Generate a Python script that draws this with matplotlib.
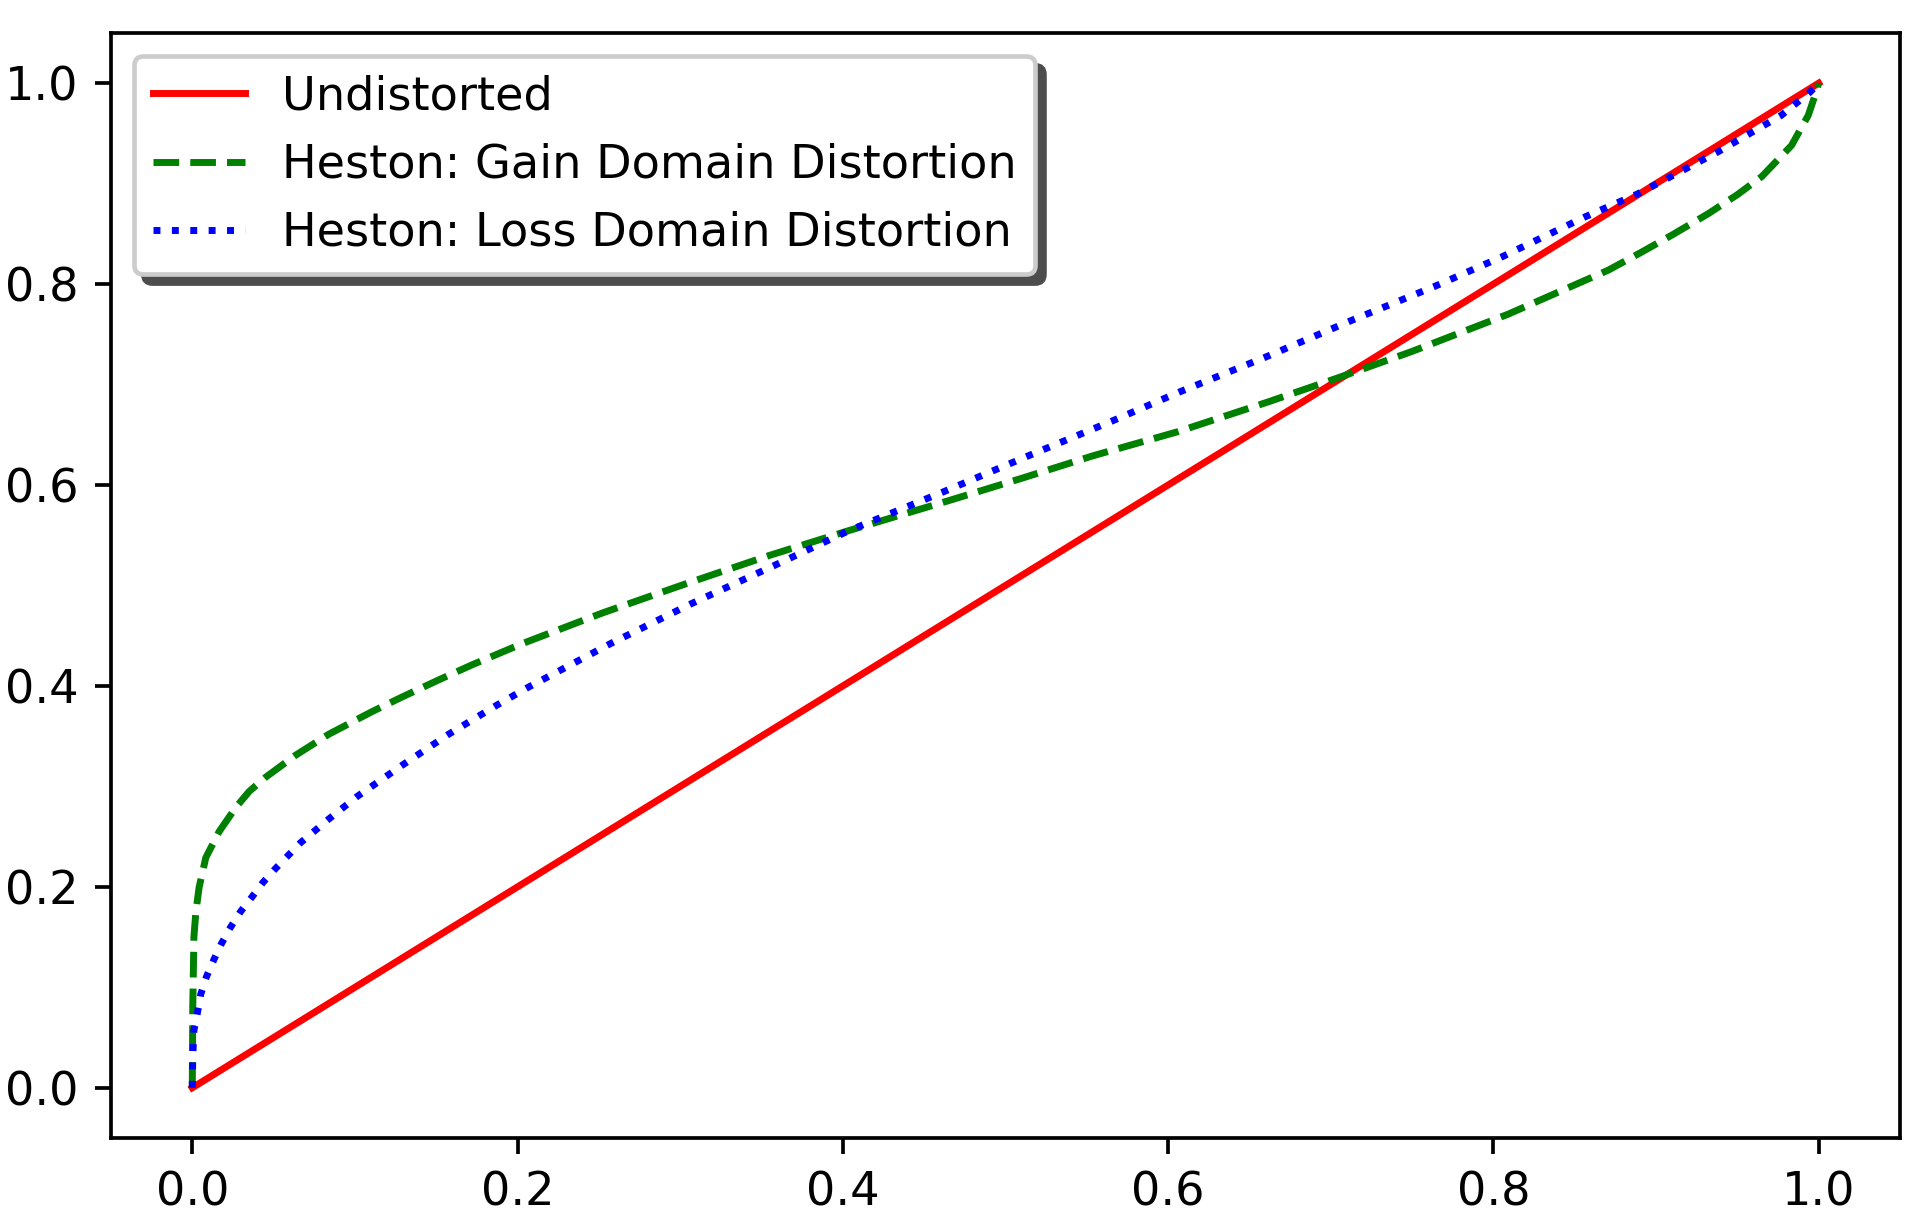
import matplotlib
matplotlib.use("Agg")
import matplotlib.pyplot as plt

# values
p_line = [0.0, 1.0]
w_line = [0.0, 1.0]

p_gain = [0.0, 0.0003, 0.001, 0.0022, 0.0042, 0.0083, 0.0165, 0.0267, 0.035, 0.045,
          0.0635, 0.084, 0.1106, 0.129, 0.1515, 0.172, 0.2027, 0.2528, 0.304, 0.355,
          0.404, 0.4656, 0.5106, 0.5536, 0.6058, 0.662, 0.705, 0.750, 0.809, 0.8708,
          0.8913, 0.91, 0.932, 0.95, 0.965, 0.9833, 0.9936, 0.9988, 1.0]
w_gain = [0.0, 0.08, 0.15, 0.175, 0.1995, 0.229, 0.255, 0.279, 0.295, 0.309,
          0.331, 0.352, 0.3745, 0.389, 0.406, 0.421, 0.442, 0.473, 0.502, 0.530,
          0.5548, 0.5847, 0.607, 0.629, 0.653, 0.683, 0.707, 0.733, 0.770, 0.814,
          0.832, 0.849, 0.870, 0.889, 0.907, 0.938, 0.968, 0.993, 1.0]

p_loss = [0.0, 0.0003, 0.001, 0.0032, 0.0052, 0.0087, 0.0134, 0.018, 0.0236, 0.0298,
          0.0365, 0.0435, 0.0509, 0.0666, 0.084, 0.1014, 0.129, 0.1577, 0.1874, 0.2058,
          0.257, 0.307, 0.358, 0.404, 0.4615, 0.5147, 0.566, 0.6068, 0.660, 0.713,
          0.764, 0.806, 0.8565, 0.889, 0.938, 0.977, 0.9946, 1.0]
w_loss = [0.0, 0.03, 0.057, 0.075, 0.093, 0.1105, 0.128, 0.1437, 0.16, 0.1756,
          0.1895, 0.2045, 0.2178, 0.244, 0.2676, 0.290, 0.321, 0.352, 0.381, 0.398,
          0.442, 0.482, 0.52, 0.5548, 0.593, 0.6295, 0.664, 0.6925, 0.7274, 0.764,
          0.7978, 0.8277, 0.867, 0.890, 0.9316, 0.968, 0.991, 1.0]

DPI = 333
fig = plt.figure(figsize=(1913 / DPI, 1220 / DPI), dpi=DPI)
ax = fig.add_axes([0.058, 0.0672, 0.9352, 0.9058])

ax.plot(p_line, w_line, color='red', linestyle='-', label='Undistorted')
ax.plot(p_gain, w_gain, color='green', linestyle='--', label='Heston: Gain Domain Distortion')
ax.plot(p_loss, w_loss, color='blue', linestyle=':', label='Heston: Loss Domain Distortion')

ax.set_xticks([0.0, 0.2, 0.4, 0.6, 0.8, 1.0])
ax.set_yticks([0.0, 0.2, 0.4, 0.6, 0.8, 1.0])
ax.legend(loc='upper left', shadow={'alpha': 1.0}, framealpha=1.0)

fig.savefig('out.png', dpi=DPI)
